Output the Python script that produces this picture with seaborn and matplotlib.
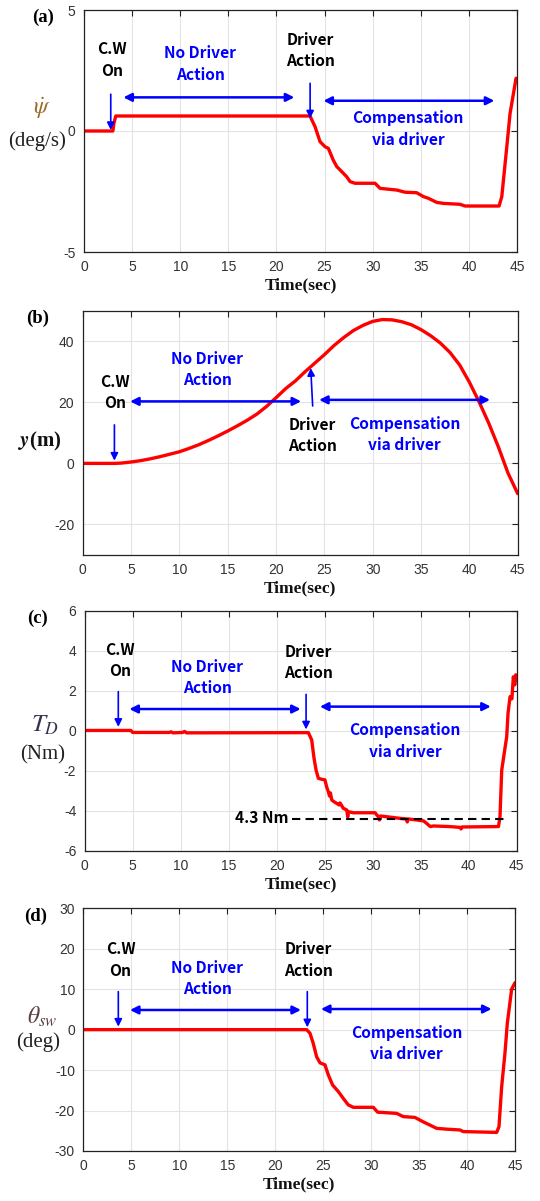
import numpy as np
import pandas as pd
import matplotlib
matplotlib.use('Agg')
import matplotlib.pyplot as plt
import seaborn as sns

# ---------------- data ----------------
t_a = [0, 3.0, 3.1, 3.3, 23.49, 24.01, 24.53, 25.05, 25.4, 25.9, 26.27, 26.79, 27.3, 27.65, 28.17,
       30.25, 30.77, 32.5, 33.37, 34.57, 35.27, 35.79, 36.66, 37.35, 39.09, 39.6, 43.14, 43.42,
       43.94, 44.28, 44.9]
yaw_rate = [0, 0, 0.3, 0.62, 0.62, 0.18, -0.44, -0.65, -0.72, -1.2, -1.47, -1.68, -1.89, -2.09, -2.16,
            -2.16, -2.37, -2.44, -2.53, -2.55, -2.71, -2.78, -2.95, -2.99, -3.03, -3.1, -3.1, -2.71,
            -0.65, 0.73, 2.18]

t_b = [0, 3.3, 4, 5, 6, 7, 8, 9, 10, 11, 12, 13, 14, 15, 16, 17, 18, 19, 20, 21, 22, 23, 24, 25,
       26, 27, 28, 29, 30, 31, 32, 33, 34, 35, 36, 37, 38, 39, 40, 41, 42, 43, 44, 45]
lat_pos = [0, 0, 0.1, 0.45, 0.9, 1.5, 2.2, 3.0, 3.8, 4.9, 6.1, 7.5, 9.0, 10.6, 12.3, 14.1, 16.1,
           18.6, 21.5, 24.5, 27.0, 30.0, 32.8, 35.6, 38.6, 41.2, 43.5, 45.2, 46.5, 47.1, 47.0, 46.4,
           45.4, 43.8, 41.8, 39.4, 36.3, 32.2, 26.6, 20.2, 13.2, 5.4, -3.2, -9.9]

t_c = [0, 4.8, 5.0, 8.8, 9.0, 9.2, 10.2, 10.4, 10.6, 23.3, 23.5, 23.65, 23.82, 23.9, 24.1, 24.34,
       24.7, 25.03, 25.2, 25.38, 25.5, 25.6, 25.73, 26.0, 26.25, 26.5, 26.6, 26.94, 27.3, 27.4,
       27.47, 27.99, 30.24, 30.59, 30.7, 30.8, 32.85, 33.5, 33.6, 33.7, 34.58, 35.3, 35.62, 36.0,
       36.32, 38.0, 39.1, 39.2, 39.3, 43.1, 43.26, 43.44, 43.96, 44.1, 44.31, 44.5, 44.65, 44.8,
       44.9, 45.0]
torque = [0.02, 0.02, -0.08, -0.08, -0.05, -0.1, -0.08, -0.03, -0.1, -0.09, -0.3, -0.46, -1.12, -1.4,
          -1.96, -2.37, -2.42, -2.45, -2.8, -3.04, -3.25, -3.1, -3.45, -3.55, -3.62, -3.7, -3.6,
          -3.87, -3.95, -4.3, -4.04, -4.09, -4.09, -4.29, -4.45, -4.25, -4.37, -4.4, -4.55, -4.4,
          -4.45, -4.5, -4.62, -4.78, -4.75, -4.78, -4.82, -4.9, -4.8, -4.78, -4.29, -1.96, -0.29,
          0.9, 1.71, 1.6, 2.7, 2.3, 2.8, 2.54]
torque_ref_x = [21.56, 43.68]
torque_ref_y = [-4.42, -4.42]

t_d = [0, 23.28, 23.63, 23.97, 24.32, 24.67, 25.19, 25.54, 25.99, 26.58, 27.1, 27.62, 28.14, 30.23,
       30.68, 32.66, 33.36, 34.57, 35.44, 36.14, 36.83, 37.87, 39.26, 39.61, 43.09, 43.33, 43.61,
       43.95, 44.2, 44.65, 45.0]
steer = [0, 0, -0.9, -3.4, -6.7, -8.2, -8.7, -11.2, -13.7, -15.3, -17.0, -18.6, -19.2, -19.2,
         -20.4, -20.7, -21.5, -21.7, -22.8, -23.6, -24.4, -24.6, -24.8, -25.2, -25.4, -24.0, -14.1,
         -5.9, 1.6, 10.0, 11.6]

x_ticks = [0, 5, 10, 15, 20, 25, 30, 35, 40, 45]
y_ticks_a = [-5, 0, 5]
y_ticks_b = [-20, 0, 20, 40]
y_ticks_c = [-6, -4, -2, 0, 2, 4, 6]
y_ticks_d = [-30, -20, -10, 0, 10, 20, 30]

# ---------------- style ----------------
sns.set_theme(style='whitegrid')
plt.rcParams['font.family'] = ['Liberation Sans', 'DejaVu Sans']
plt.rcParams['mathtext.fontset'] = 'stix'
plt.rcParams['axes.unicode_minus'] = False

W, H = 540, 1201
fig = plt.figure(figsize=(5.4, 12.01), dpi=100)
fig.patch.set_facecolor('white')

ANN = ['Noto Sans CJK KR', 'DejaVu Sans']
SERIF = ['Liberation Serif', 'DejaVu Serif']
BLUE = '#0000ff'


def make_ax(l, t, r, b):
    return fig.add_axes([l / W, 1 - b / H, (r - l) / W, (b - t) / H])


def style(ax, ylim, yticks):
    ax.set_xlim(0, 45)
    ax.set_ylim(*ylim)
    ax.set_xticks(x_ticks)
    ax.set_yticks(yticks)
    ax.set_facecolor('white')
    ax.grid(True, color='#e3e3e3', lw=0.8)
    for s in ax.spines.values():
        s.set_color('#222222')
        s.set_linewidth(0.9)
        s.set_visible(True)
    ax.tick_params(direction='in', length=4, width=0.8, color='#222222', top=True, right=True,
                   labelsize=10, labelcolor='#333333', pad=6)
    ax.set_xlabel('Time(sec)', fontfamily=SERIF, fontweight='bold', fontsize=12.5, labelpad=2,
                  color='#111111')
    ax.set_ylabel('')


def txt(ax, x, y, s, color):
    ax.text(x, y, s, ha='center', va='center', fontfamily=ANN, fontweight='bold', fontsize=11.2,
            color=color, linespacing=1.4)


def arrow(ax, x0, y0, x1, y1):
    ax.annotate('', xy=(x1, y1), xytext=(x0, y0),
                arrowprops=dict(arrowstyle='-|>', color=BLUE, lw=1.2, mutation_scale=11,
                                shrinkA=0, shrinkB=0))


def darrow(ax, x0, x1, y):
    ax.annotate('', xy=(x1, y), xytext=(x0, y),
                arrowprops=dict(arrowstyle='<|-|>', color=BLUE, lw=1.8, mutation_scale=12,
                                shrinkA=0, shrinkB=0))


def curve(ax, x, y):
    df = pd.DataFrame({'t': x, 'v': y})
    sns.lineplot(data=df, x='t', y='v', ax=ax, color='#ff0000', lw=2.4, sort=False,
                 estimator=None)


# ---------------- (a) ----------------
ax = make_ax(84, 10, 517, 252)
curve(ax, t_a, yaw_rate)
style(ax, (-5, 5), y_ticks_a)
txt(ax, 2.9, 2.93, 'C.W\nOn', 'black')
arrow(ax, 2.78, 1.52, 2.78, 0.04)
txt(ax, 12.06, 2.77, 'No Driver\nAction', BLUE)
darrow(ax, 4.09, 21.86, 1.39)
txt(ax, 23.56, 3.31, 'Driver\nAction', 'black')
arrow(ax, 23.5, 1.97, 23.5, 0.52)
darrow(ax, 24.88, 42.65, 1.25)
txt(ax, 33.7, 0.08, 'Compensation\nvia driver', BLUE)

# ---------------- (b) ----------------
ax = make_ax(82.7, 310.7, 517.7, 555)
curve(ax, t_b, lat_pos)
style(ax, (-30, 50), y_ticks_b)
txt(ax, 3.34, 23.3, 'C.W\nOn', 'black')
arrow(ax, 3.28, 12.6, 3.28, 0.9)
txt(ax, 12.9, 30.7, 'No Driver\nAction', BLUE)
darrow(ax, 4.9, 22.6, 20.3)
txt(ax, 23.76, 9.1, 'Driver\nAction', 'black')
arrow(ax, 23.79, 18.8, 23.59, 31.2)
darrow(ax, 24.45, 42.14, 20.8)
txt(ax, 33.28, 9.4, 'Compensation\nvia driver', BLUE)

# ---------------- (c) ----------------
ax = make_ax(84.7, 610.7, 516.7, 851)
curve(ax, t_c, torque)
ax.plot(torque_ref_x, torque_ref_y, color='black', lw=1.5, ls=(0, (4, 2.5)))
style(ax, (-6, 6), y_ticks_c)
ax.text(21.25, -4.37, '4.3 Nm', ha='right', va='center', fontfamily=ANN, fontweight='bold',
        fontsize=11.2, color='black')
txt(ax, 3.68, 3.5, 'C.W\nOn', 'black')
arrow(ax, 3.5, 1.96, 3.5, 0.2)
txt(ax, 12.78, 2.67, 'No Driver\nAction', BLUE)
darrow(ax, 4.65, 22.5, 1.09)
txt(ax, 23.3, 3.43, 'Driver\nAction', 'black')
arrow(ax, 23.06, 1.82, 23.06, 0.07)
darrow(ax, 24.5, 42.3, 1.21)
txt(ax, 33.37, -0.51, 'Compensation\nvia driver', BLUE)

# ---------------- (d) ----------------
ax = make_ax(83.3, 908.3, 515, 1151)
curve(ax, t_d, steer)
style(ax, (-30, 30), y_ticks_d)
txt(ax, 3.89, 17.2, 'C.W\nOn', 'black')
arrow(ax, 3.65, 9.4, 3.65, 0.74)
txt(ax, 12.93, 12.7, 'No Driver\nAction', BLUE)
darrow(ax, 4.86, 22.69, 4.86)
txt(ax, 23.45, 17.2, 'Driver\nAction', 'black')
arrow(ax, 23.35, 9.4, 23.35, 0.58)
darrow(ax, 24.77, 42.56, 5.1)
txt(ax, 33.7, -3.5, 'Compensation\nvia driver', BLUE)


# ---------------- labels ----------------
def ftxt(x, y, s, **kw):
    fig.text(x / W, 1 - y / H, s, ha='center', va='center', **kw)


ftxt(43, 17, '(a)', fontfamily=SERIF, fontweight='bold', fontsize=13.5, color='black')
ftxt(37.5, 318, '(b)', fontfamily=SERIF, fontweight='bold', fontsize=13.5, color='black')
ftxt(37.5, 618, '(c)', fontfamily=SERIF, fontweight='bold', fontsize=13.5, color='black')
ftxt(36, 916, '(d)', fontfamily=SERIF, fontweight='bold', fontsize=13.5, color='black')

ftxt(42, 108, r'$\dot{\psi}$', fontsize=17, color='#9a6a2a')
ftxt(37, 141, '(deg/s)', fontfamily=SERIF, fontsize=15, color='#222222')

ftxt(40, 441, r'$\boldsymbol{y}$' + '(m)', fontfamily=SERIF, fontweight='bold', fontsize=15,
     color='#111111')

ftxt(45, 725, r'$T_D$', fontsize=18, color='#3a3050')
ftxt(43, 755, '(Nm)', fontfamily=SERIF, fontsize=15, color='#222222')

ftxt(42, 1017, r'$\theta_{sw}$', fontsize=17, color='#5a4040')
ftxt(38, 1042, '(deg)', fontfamily=SERIF, fontsize=15, color='#222222')

fig.savefig('out.png', dpi=100, facecolor='white')
